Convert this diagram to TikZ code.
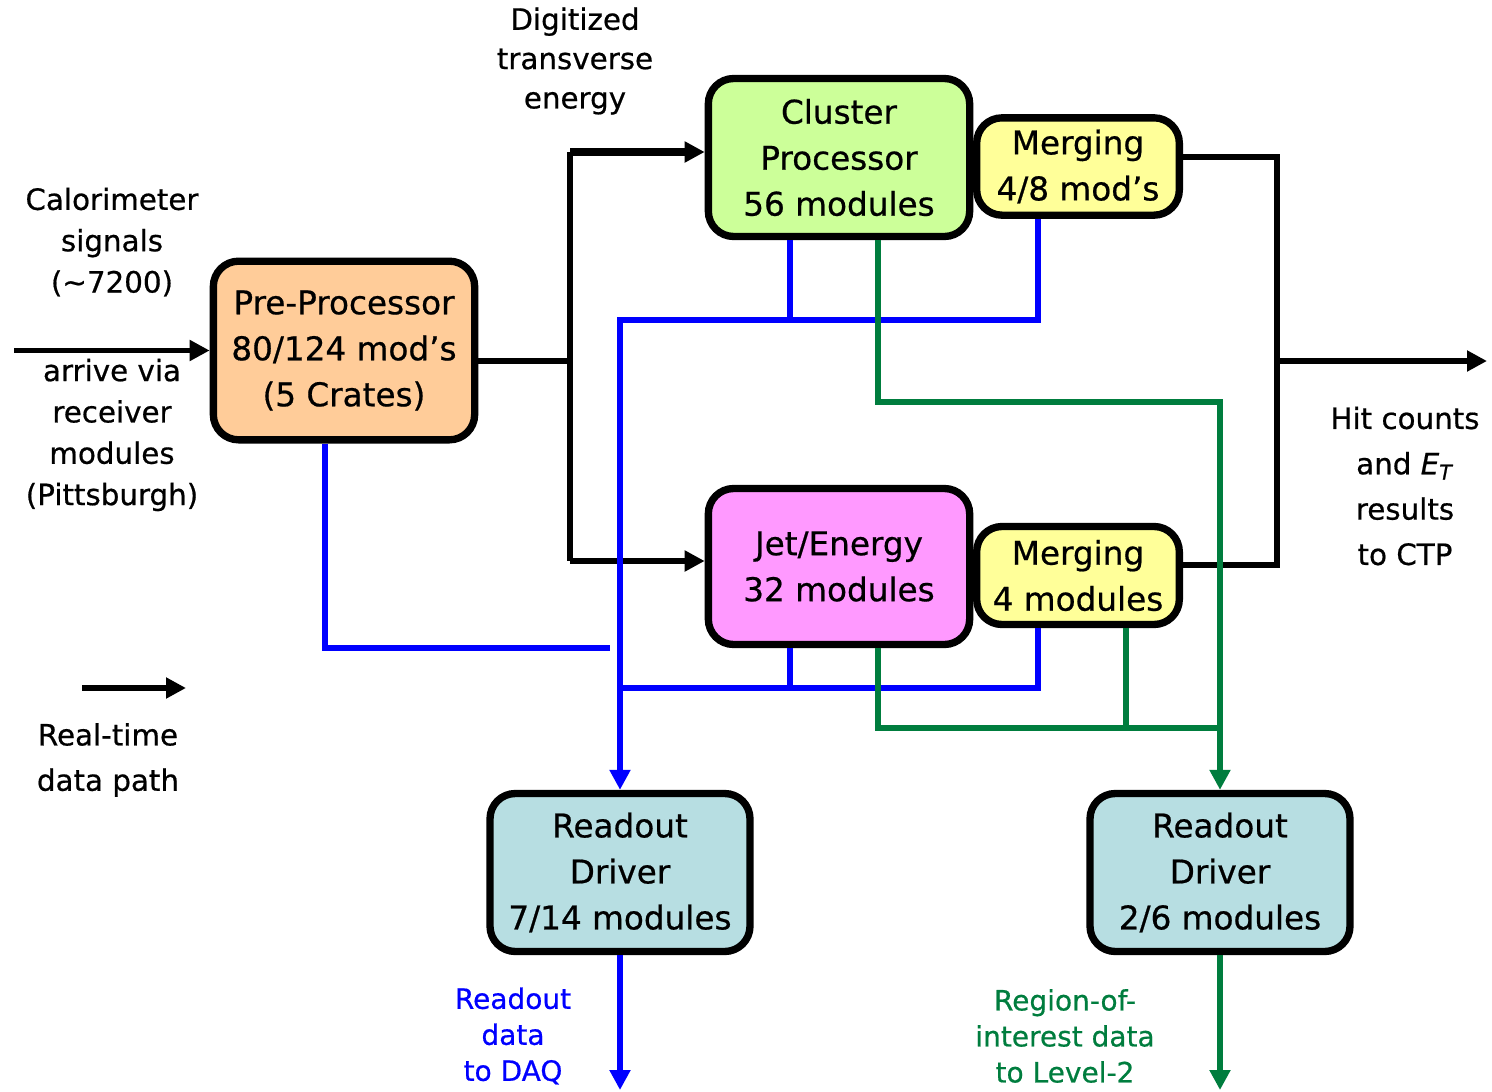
\documentclass[tikz,border=0pt]{standalone}
\usepackage{fontspec}
\setmainfont{DejaVu Sans}[FakeBold=0.6]
\usetikzlibrary{arrows.meta}

\definecolor{ppfill}{RGB}{255,204,153}
\definecolor{cpfill}{RGB}{204,255,153}
\definecolor{mgfill}{RGB}{255,255,153}
\definecolor{jefill}{RGB}{255,153,255}
\definecolor{rodfill}{RGB}{183,222,226}
\definecolor{roigreen}{RGB}{0,125,62}

\begin{document}
\begin{tikzpicture}[x=0.75pt,y=0.75pt,yscale=-1,xscale=1,
    >={Triangle[length=15pt,width=15pt]},
    box/.style={draw,line width=5.5pt,rounded corners=19pt,align=center,inner sep=0pt,
        font=\fontsize{24.5}{34.5}\selectfont},
    lbl/.style={align=center,font=\fontsize{22}{31}\selectfont},
    rt/.style={line width=4pt},
    ro/.style={blue,line width=4pt},
    roi/.style={roigreen,line width=4pt}]
        \useasboundingbox (0,0) rectangle (1492,1092);

        % Boxes
        \node[box,fill=ppfill,minimum width=196pt,minimum height=134pt] (pre) at (344,350.5) {Pre-Processor\\80/124 mod's\\(5 Crates)};
        \node[box,fill=cpfill,minimum width=196pt,minimum height=118.5pt] (cluster) at (839,157.5) {Cluster\\Processor\\56 modules};
        \node[box,fill=mgfill,minimum width=152pt,minimum height=73pt] (cmerge) at (1078,166.5) {Merging\\4/8 mod's};
        \node[box,fill=jefill,minimum width=196pt,minimum height=117pt] (jet) at (839,566.5) {Jet/Energy\\32 modules};
        \node[box,fill=mgfill,minimum width=152pt,minimum height=73.5pt] (jmerge) at (1078,575.5) {Merging\\4 modules};
        \node[box,fill=rodfill,minimum width=195pt,minimum height=118.5pt] (rodL) at (620,872.5) {Readout\\Driver\\7/14 modules};
        \node[box,fill=rodfill,minimum width=195pt,minimum height=118.5pt] (rodR) at (1220,872.5) {Readout\\Driver\\2/6 modules};

        % Text Nodes
        \node[lbl,font=\fontsize{22}{29.5}\selectfont] (digit) at (575,61) {Digitized\\transverse\\energy};
        \node[lbl] (calo) at (112,242) {Calorimeter\\signals\\(\textasciitilde 7200)};
        \node[lbl] (arrive) at (112,435) {arrive via\\receiver\\modules\\(Pittsburgh)};
        \node[lbl,font=\fontsize{22}{34}\selectfont] (hits) at (1405,486) {Hit counts\\and \textit{E}\textsubscript{\textit{T}}\\results\\to CTP};
        \node[lbl,font=\fontsize{22}{34}\selectfont] (legend) at (108,760) {Real-time\\data path};
        \node[lbl,blue,font=\fontsize{21}{27}\selectfont] (rodata) at (513,1036) {Readout\\data\\to DAQ};
        \node[lbl,roigreen,font=\fontsize{21}{27}\selectfont] (roidata) at (1065,1036) {Region-of-\\interest data\\to Level-2};

        \coordinate (inL) at (14,350.5);
        \coordinate (busT) at (570,152);
        \coordinate (busM) at (570,361);
        \coordinate (busB) at (570,561);
        \coordinate (rbT) at (1277,157);
        \coordinate (rbB) at (1277,565);
        \coordinate (ctp) at (1487,361);
        \coordinate (lgA) at (82,688);
        \coordinate (lgB) at (186,688);

        % Real-time path
        \draw[rt,->] (inL) -- (pre.west);
        \draw[rt] (pre.east |- busM) -- (busM);
        \draw[rt] (busT) -- (busB);
        \draw[rt,line width=5.5pt,->] (busT) -- (cluster.west |- busT);
        \draw[rt,->] (busB) -- (jet.west |- busB);
        \draw[rt] (cmerge.east |- rbT) -- (rbT) -- (rbB) -- (jmerge.east |- rbB);
        \draw[rt,->] (rbT |- ctp) -- (ctp);
        \draw[rt,->] (lgA) -- (lgB);

        \coordinate (bT) at (620,320);
        \coordinate (bA) at (790,320);
        \coordinate (bC) at (1038,320);
        \coordinate (bF) at (620,688);
        \coordinate (bD) at (790,688);
        \coordinate (bE) at (1038,688);
        \coordinate (pA) at (325,648);
        \coordinate (pB) at (610,648);
        \coordinate (daq) at (620,1090);

        % Readout path
        \draw[ro] (cluster.south -| bA) -- (bA);
        \draw[ro,->] (cmerge.south -| bC) -- (bC) -- (bT) -- (rodL.north);
        \draw[ro] (jet.south -| bD) -- (bD);
        \draw[ro] (jmerge.south -| bE) -- (bE) -- (bF);
        \draw[ro] (pre.south -| pA) -- (pA) -- (pB);
        \draw[ro,->] (rodL.south) -- (daq);

        \coordinate (gA) at (878,402);
        \coordinate (gB) at (1220,402);
        \coordinate (gC) at (878,728);
        \coordinate (gD) at (1126,728);
        \coordinate (gE) at (1220,728);
        \coordinate (lvl2) at (1220,1090);

        % RoI path
        \draw[roi,->] (cluster.south -| gA) -- (gA) -- (gB) -- (rodR.north);
        \draw[roi] (jet.south -| gC) -- (gC) -- (gE);
        \draw[roi] (jmerge.south -| gD) -- (gD);
        \draw[roi,->] (rodR.south) -- (lvl2);
\end{tikzpicture}
\end{document}
